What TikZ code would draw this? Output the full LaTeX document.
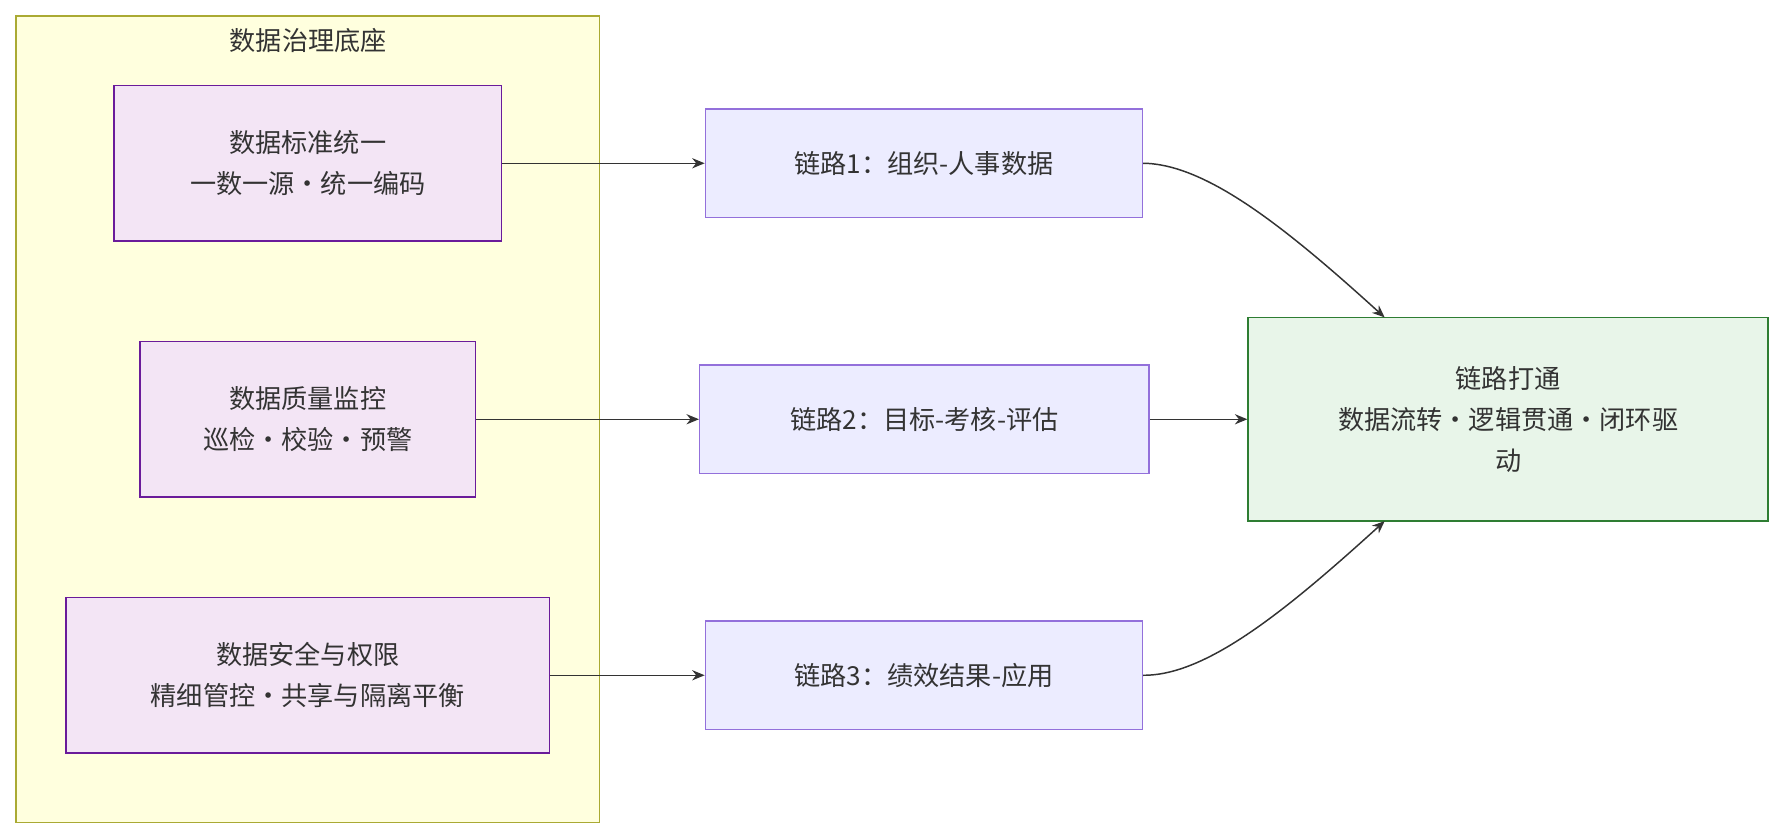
\documentclass[tikz,border=0pt]{standalone}
\usepackage{fontspec}
\setmainfont{Noto Sans CJK SC}
\usetikzlibrary{arrows.meta}
\definecolor{clfill}{HTML}{FFFFDE}
\definecolor{clline}{HTML}{AAAA33}
\definecolor{bsfill}{HTML}{F3E5F5}
\definecolor{bsline}{HTML}{6A1B9A}
\definecolor{lkfill}{HTML}{ECECFF}
\definecolor{lkline}{HTML}{9370DB}
\definecolor{rsfill}{HTML}{E8F5E9}
\definecolor{rsline}{HTML}{2E7D32}
\definecolor{edge}{HTML}{333333}
\tikzset{
  box/.style={draw, line width=1.3pt, align=center, inner sep=0pt,
    font=\fontsize{23}{36}\selectfont, text=black!80},
  base/.style={box, fill=bsfill, draw=bsline},
  link/.style={box, fill=lkfill, draw=lkline},
  result/.style={box, fill=rsfill, draw=rsline},
  flow/.style={draw=edge, line width=1.3pt, -{Stealth[length=11pt,width=9pt]}}
}
\begin{document}
\begin{tikzpicture}[x=1pt,y=-1pt]
\useasboundingbox (0,0) rectangle (1568,738);
% cluster
\draw[fill=clfill, draw=clline, line width=1.3pt] (14,14) rectangle (527,723);
\node[font=\fontsize{23}{28}\selectfont, text=black!80] (title) at (271,36) {数据治理底座};

% base nodes
\node[base, minimum width=341pt, minimum height=137pt] (std) at (270.5,143.5) {数据标准统一\\一数一源·统一编码};
\node[base, minimum width=295pt, minimum height=137pt] (qual) at (270.5,368.5) {数据质量监控\\巡检·校验·预警};
\node[base, minimum width=425pt, minimum height=137pt] (sec) at (270.5,593.5) {数据安全与权限\\精细管控·共享与隔离平衡};

% links
\node[link, minimum width=384pt, minimum height=95pt] (lk1) at (812,143.5) {链路1：组织-人事数据};
\node[link, minimum width=395pt, minimum height=95pt] (lk2) at (812.5,368.5) {链路2：目标-考核-评估};
\node[link, minimum width=384pt, minimum height=95pt] (lk3) at (812,593.5) {链路3：绩效结果-应用};

% result
\node[result, minimum width=457pt, minimum height=179pt] (res) at (1325.5,368.5) {链路打通\\数据流转·逻辑贯通·闭环驱\\动};

\draw[flow] (std) -- (lk1);
\draw[flow] (qual) -- (lk2);
\draw[flow] (sec) -- (lk3);
\draw[flow] (lk1.east) .. controls (1060,144) and (1130,200) .. (1217,279);
\draw[flow] (lk2) -- (res);
\draw[flow] (lk3.east) .. controls (1060,594) and (1130,537) .. (1217,458);
\end{tikzpicture}
\end{document}
